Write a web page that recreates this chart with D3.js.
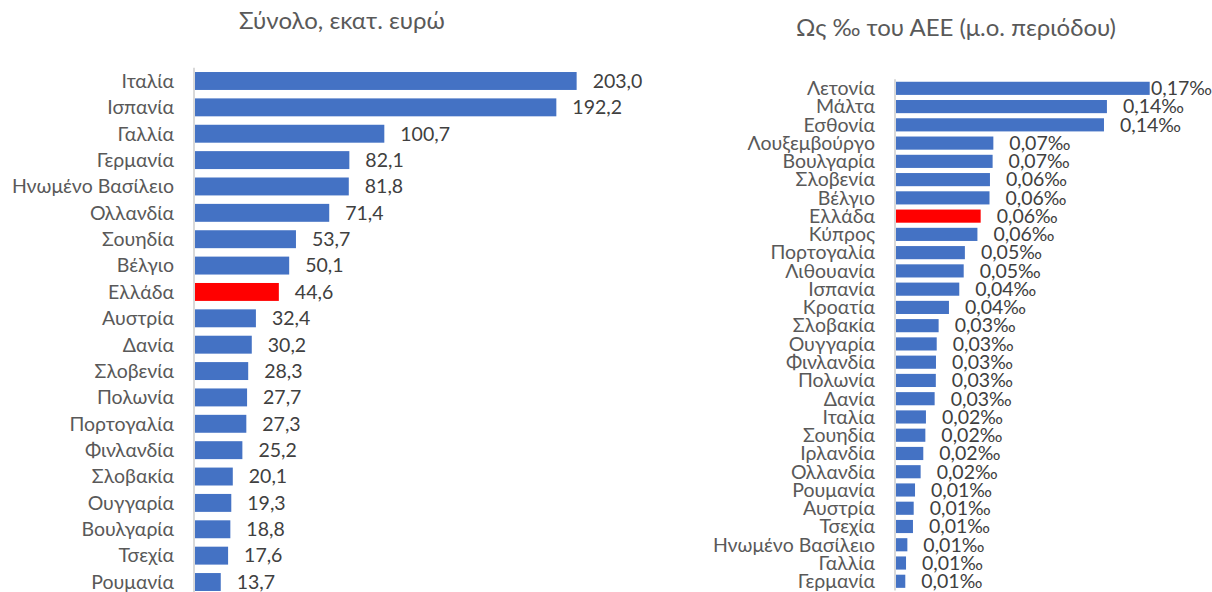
<!DOCTYPE html>
<html>
<head>
<meta charset="utf-8">
<script src="https://cdn.jsdelivr.net/npm/d3@7"></script>
<style>
  body { margin: 0; background: #fff; }
  text { font-family: Lato, "Noto Sans", sans-serif; }
</style>
</head>
<body>
<svg id="chart" width="1212" height="592"></svg>
<script>
// left panel: total, million euro
var leftTitle = "Σύνολο, εκατ. ευρώ";
var leftCountries = ["Ιταλία", "Ισπανία", "Γαλλία", "Γερμανία", "Ηνωμένο Βασίλειο", "Ολλανδία",
  "Σουηδία", "Βέλγιο", "Ελλάδα", "Αυστρία", "Δανία", "Σλοβενία", "Πολωνία", "Πορτογαλία",
  "Φινλανδία", "Σλοβακία", "Ουγγαρία", "Βουλγαρία", "Τσεχία", "Ρουμανία"];
var leftValues = [203.0, 192.2, 100.7, 82.1, 81.8, 71.4, 53.7, 50.1, 44.6, 32.4, 30.2, 28.3,
  27.7, 27.3, 25.2, 20.1, 19.3, 18.8, 17.6, 13.7];

// right panel: per mille of GNI (period average)
var rightTitle = "Ως ‰ του ΑΕΕ (μ.ο. περιόδου)";
var rightCountries = ["Λετονία", "Μάλτα", "Εσθονία", "Λουξεμβούργο", "Βουλγαρία", "Σλοβενία",
  "Βέλγιο", "Ελλάδα", "Κύπρος", "Πορτογαλία", "Λιθουανία", "Ισπανία", "Κροατία", "Σλοβακία",
  "Ουγγαρία", "Φινλανδία", "Πολωνία", "Δανία", "Ιταλία", "Σουηδία", "Ιρλανδία", "Ολλανδία",
  "Ρουμανία", "Αυστρία", "Τσεχία", "Ηνωμένο Βασίλειο", "Γαλλία", "Γερμανία"];
var rightValues = [0.172, 0.143, 0.141, 0.066, 0.0655, 0.0637, 0.0634, 0.0574, 0.0552, 0.0467,
  0.0459, 0.0429, 0.0359, 0.0289, 0.0276, 0.0271, 0.0270, 0.0262, 0.0203, 0.0199, 0.0185,
  0.0167, 0.0129, 0.0120, 0.0115, 0.0077, 0.0068, 0.0063];

var highlight = "Ελλάδα";

var svg = d3.select("#chart"),
    W = +svg.attr("width");

var makeChart = function(o) {
  var g = svg.append("g");

  var x = d3.scaleLinear().domain(o.domain).range(o.xRange);
  var y = d3.scaleBand()
      .domain(o.cats)
      .range(o.yRange)
      .paddingInner(o.pad)
      .paddingOuter(o.pad / 2);

  g.append("text")
      .attr("x", o.titleX)
      .attr("y", o.titleY)
      .attr("text-anchor", "middle")
      .attr("font-size", 24)
      .attr("fill", "#595959")
      .text(o.title);

  g.selectAll("rect")
    .data(o.values)
    .enter().append("rect")
      .attr("x", x(0))
      .attr("y", (d, i) => y(o.cats[i]))
      .attr("width", d => x(d) - x(0))
      .attr("height", y.bandwidth())
      .attr("fill", (d, i) => o.cats[i] == highlight ? "#ff0000" : "#4472c4");

  // vertical category axis line
  g.append("line")
      .attr("x1", x(0) - 1).attr("x2", x(0) - 1)
      .attr("y1", o.yRange[0]).attr("y2", o.yRange[1])
      .attr("stroke", "#d9d9d9")
      .attr("stroke-width", 2);

  g.selectAll("text.cat")
    .data(o.cats)
    .enter().append("text")
      .attr("class", "cat")
      .attr("x", x(0) - 21)
      .attr("y", d => y(d) + y.bandwidth() / 2)
      .attr("dy", "0.35em")
      .attr("text-anchor", "end")
      .attr("font-size", o.fs)
      .attr("fill", "#595959")
      .text(d => d);

  g.selectAll("text.val")
    .data(o.values)
    .enter().append("text")
      .attr("class", "val")
      .attr("y", (d, i) => y(o.cats[i]) + y.bandwidth() / 2)
      .attr("dy", "0.35em")
      .attr("font-size", o.fs)
      .attr("fill", "#404040")
      .text(o.fmt)
      .attr("x", function(d) {
        var w = this.getComputedTextLength();
        return Math.min(x(d) + 16, W - w);
      });
};

makeChart({
  title: leftTitle, titleX: 342, titleY: 29,
  cats: leftCountries, values: leftValues,
  domain: [0, 250], xRange: [195, 665],
  yRange: [67.8, 595.2], pad: 0.32, fs: 19.5,
  fmt: d => d3.format(".1f")(d).replace(".", ",")
});

makeChart({
  title: rightTitle, titleX: 956, titleY: 36,
  cats: rightCountries, values: rightValues,
  domain: [0, 0.2], xRange: [896, 1191],
  yRange: [79.2, 590.4], pad: 0.28, fs: 19.5,
  fmt: d => d3.format(".2f")(d).replace(".", ",") + "‰"
});
</script>
</body>
</html>
